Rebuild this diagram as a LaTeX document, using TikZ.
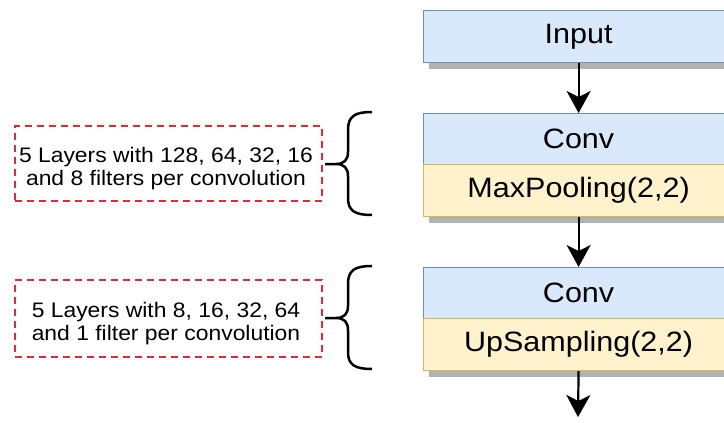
\documentclass[tikz,border=0pt]{standalone}
\usepackage{fontspec}
\setmainfont{Liberation Sans}
\usetikzlibrary{arrows.meta,shadows}
\definecolor{bluefill}{HTML}{DAE8FC}
\definecolor{blueline}{HTML}{6C8EBF}
\definecolor{yelfill}{HTML}{FFF2CC}
\definecolor{yelline}{HTML}{D6B656}
\definecolor{dashred}{RGB}{232,40,55}
\newcommand{\wtxt}[1]{\scalebox{1.09}[1]{#1}}
\begin{document}
\begin{tikzpicture}[x=1pt,y=-1pt,
  layerbase/.style={line width=1.2pt, minimum width=310pt, anchor=north west,
    inner sep=0pt, font=\fontsize{28}{30}\selectfont},
  bluebox/.style={layerbase, draw=blueline, fill=bluefill},
  yelbox/.style={layerbase, draw=yelline, fill=yelfill},
  shad/.style={drop shadow={shadow xshift=5pt, shadow yshift=-6pt, fill=black!30, opacity=1}},
  notebox/.style={draw=dashred, line width=2pt, dash pattern=on 7pt off 5pt,
    minimum width=307pt, inner sep=0pt},
  notetext/.style={align=center, inner sep=0pt, font=\fontsize{21}{23.5}\selectfont},
  flow/.style={line width=2.2pt, black, arrows={-Stealth[length=22pt 0 0,width=24pt 0 0,inset=6pt 0]}},
  bracket/.style={line width=2.5pt, black}
]
\useasboundingbox (0,0) rectangle (724,423);

% right column
\node[bluebox, shad, minimum height=52pt] (inp) at (423,10) {\wtxt{Input}};
\node[bluebox, minimum height=51pt] (conv1) at (423,113) {\wtxt{Conv}};
\node[yelbox, shad, minimum height=52pt] (pool) at (423,164) {\wtxt{MaxPooling(2,2)}};
\node[bluebox, minimum height=51pt] (conv2) at (423,267) {\wtxt{Conv}};
\node[yelbox, shad, minimum height=52pt] (ups) at (423,318) {\wtxt{UpSampling(2,2)}};
\coordinate (out) at (578,417);

\draw[flow] (inp.south) -- (conv1.north);
\draw[flow] (pool.south) -- (conv2.north);
\draw[flow] (ups.south) -- (out);

% left notes
\node[notebox, minimum height=75pt] (note1) at (168.5,163.5) {};
\node[notetext] (note1txt) at (166,168.6)
  {\wtxt{5 Layers with 128, 64, 32, 16}\\\wtxt{and 8 filters per convolution}};
\node[notebox, minimum height=77pt] (note2) at (168.5,318.5) {};
\node[notetext] (note2txt) at (166,323.7)
  {\wtxt{5 Layers with 8, 16, 32, 64}\\\wtxt{and 1 filter per convolution}};

% braces
\draw[bracket] (372,112) .. controls (355,112) and (348,116) .. (348,130) -- (348,152)
  .. controls (348,160) and (344,164) .. (336,164) -- (325,164)
  -- (336,164) .. controls (344,164) and (348,168) .. (348,176) -- (348,198)
  .. controls (348,211) and (355,215) .. (372,215);
\draw[bracket] (372,266) .. controls (355,266) and (348,270) .. (348,284) -- (348,306)
  .. controls (348,314) and (344,318) .. (336,318) -- (325,318)
  -- (336,318) .. controls (344,318) and (348,322) .. (348,330) -- (348,352)
  .. controls (348,365) and (355,369) .. (372,369);
\end{tikzpicture}
\end{document}
